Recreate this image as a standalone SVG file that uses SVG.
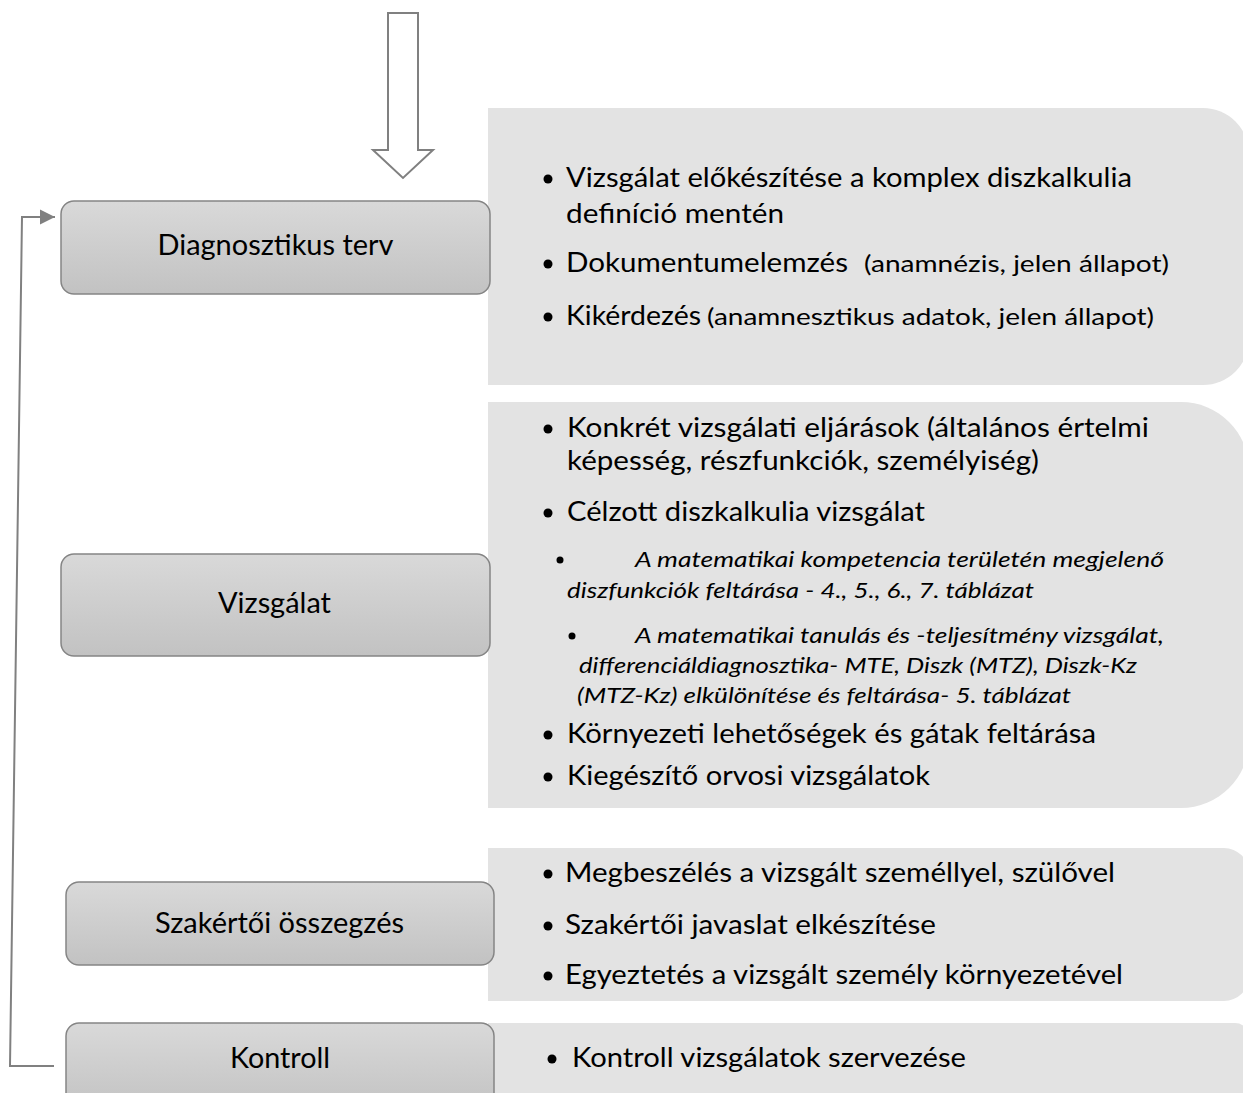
<svg xmlns="http://www.w3.org/2000/svg" width="1243" height="1093" viewBox="0 0 1243 1093">
  <defs>
    <linearGradient id="boxFill" x1="0" y1="0" x2="0" y2="1">
      <stop offset="0" stop-color="#d9d9d9"/>
      <stop offset="1" stop-color="#c2c2c2"/>
    </linearGradient>
    <marker id="arrowHead" markerUnits="userSpaceOnUse" markerWidth="16" markerHeight="16" refX="15" refY="8" orient="auto">
      <path d="M0,0.5 L15,8 L0,15.5 Z" fill="#808080"/>
    </marker>
    <style>
      .panel { fill: #e3e3e3; }
      .box { fill: url(#boxFill); stroke: #858585; stroke-width: 1.5; }
      .label { font-family: Lato, "Liberation Sans", sans-serif; font-size: 28px; fill: #000; text-anchor: middle; }
      .item { font-family: Lato, "Liberation Sans", sans-serif; font-size: 26px; fill: #000; }
      .small { font-size: 24px; }
      .sub { font-family: Lato, "Liberation Sans", sans-serif; font-size: 20.5px; font-style: italic; fill: #000; }
      .dot { fill: #000; }
      .conn { fill: none; stroke: #808080; stroke-width: 2; }
    </style>
  </defs>
  <rect width="1243" height="1093" fill="#ffffff"/>

  <!-- detail panels (rounded on the right side only) -->
  <g id="panels">
    <path class="panel" d="M488,108 H1203 A46,46 0 0 1 1249,154 V339 A46,46 0 0 1 1203,385 H488 Z"/>
    <path class="panel" d="M488,402 H1181 A68,68 0 0 1 1249,470 V740 A68,68 0 0 1 1181,808 H488 Z"/>
    <path class="panel" d="M488,848 H1224 A25,25 0 0 1 1249,873 V976 A25,25 0 0 1 1224,1001 H488 Z"/>
    <path class="panel" d="M488,1023 H1235 A14,14 0 0 1 1249,1037 V1100 H488 Z"/>
  </g>

  <!-- connectors -->
  <g id="connectors">
    <path class="conn" d="M388,13 H418 V150 H433 L403,178 L373,150 H388 Z" fill="#ffffff"/>
    <path class="conn" d="M54,1066 H10 L22,217 H55" marker-end="url(#arrowHead)"/>
  </g>

  <!-- step nodes -->
  <g id="node-diagnosztikus-terv">
    <rect class="box" x="61" y="201" width="429" height="93" rx="13"/>
    <text class="label" x="275.5" y="255" textLength="236" lengthAdjust="spacingAndGlyphs">Diagnosztikus terv</text>
  </g>
  <g id="node-vizsgalat">
    <rect class="box" x="61" y="554" width="429" height="102" rx="13"/>
    <text class="label" x="274.5" y="613" textLength="113" lengthAdjust="spacingAndGlyphs">Vizsgálat</text>
  </g>
  <g id="node-szakertoi-osszegzes">
    <rect class="box" x="66" y="882" width="428" height="83" rx="13"/>
    <text class="label" x="279.5" y="933" textLength="249" lengthAdjust="spacingAndGlyphs">Szakértői összegzés</text>
  </g>
  <g id="node-kontroll">
    <rect class="box" x="66" y="1023" width="428" height="90" rx="13"/>
    <text class="label" x="280" y="1068" textLength="100" lengthAdjust="spacingAndGlyphs">Kontroll</text>
  </g>

  <!-- bullet lists -->
  <g id="list-diagnosztikus-terv">
    <circle class="dot" cx="548" cy="179" r="4.5"/>
    <text class="item" x="566" y="187" textLength="566" lengthAdjust="spacingAndGlyphs">Vizsgálat előkészítése a komplex diszkalkulia</text>
    <text class="item" x="566" y="223" textLength="218" lengthAdjust="spacingAndGlyphs">definíció mentén</text>
    <circle class="dot" cx="548" cy="264" r="4.5"/>
    <text class="item" x="566" y="272" textLength="282" lengthAdjust="spacingAndGlyphs">Dokumentumelemzés</text>
    <text class="item small" x="864" y="272" textLength="305" lengthAdjust="spacingAndGlyphs">(anamnézis, jelen állapot)</text>
    <circle class="dot" cx="548" cy="317" r="4.5"/>
    <text class="item" x="566" y="325" textLength="135" lengthAdjust="spacingAndGlyphs">Kikérdezés</text>
    <text class="item small" x="707" y="325" textLength="447" lengthAdjust="spacingAndGlyphs">(anamnesztikus adatok, jelen állapot)</text>
  </g>

  <g id="list-vizsgalat">
    <circle class="dot" cx="548" cy="429" r="4.5"/>
    <text class="item" x="567" y="437" textLength="582" lengthAdjust="spacingAndGlyphs">Konkrét vizsgálati eljárások (általános értelmi</text>
    <text class="item" x="567" y="470" textLength="472" lengthAdjust="spacingAndGlyphs">képesség, részfunkciók, személyiség)</text>
    <circle class="dot" cx="548" cy="513" r="4.5"/>
    <text class="item" x="567" y="521" textLength="358" lengthAdjust="spacingAndGlyphs">Célzott diszkalkulia vizsgálat</text>
    <circle class="dot" cx="560" cy="560" r="3.5"/>
    <text class="sub" x="635" y="567" textLength="529" lengthAdjust="spacingAndGlyphs">A matematikai kompetencia területén megjelenő</text>
    <text class="sub" x="567" y="598" textLength="467" lengthAdjust="spacingAndGlyphs">diszfunkciók feltárása - 4., 5., 6., 7. táblázat</text>
    <circle class="dot" cx="572" cy="636" r="3.5"/>
    <text class="sub" x="635" y="643" textLength="529" lengthAdjust="spacingAndGlyphs">A matematikai tanulás és -teljesítmény vizsgálat,</text>
    <text class="sub" x="579" y="673" textLength="558" lengthAdjust="spacingAndGlyphs">differenciáldiagnosztika- MTE, Diszk (MTZ), Diszk-Kz</text>
    <text class="sub" x="577" y="703" textLength="494" lengthAdjust="spacingAndGlyphs">(MTZ-Kz) elkülönítése és feltárása- 5. táblázat</text>
    <circle class="dot" cx="548" cy="735" r="4.5"/>
    <text class="item" x="567" y="743" textLength="529" lengthAdjust="spacingAndGlyphs">Környezeti lehetőségek és gátak feltárása</text>
    <circle class="dot" cx="548" cy="777" r="4.5"/>
    <text class="item" x="567" y="785" textLength="363" lengthAdjust="spacingAndGlyphs">Kiegészítő orvosi vizsgálatok</text>
  </g>

  <g id="list-szakertoi-osszegzes">
    <circle class="dot" cx="548" cy="874" r="4.5"/>
    <text class="item" x="565" y="882" textLength="550" lengthAdjust="spacingAndGlyphs">Megbeszélés a vizsgált személlyel, szülővel</text>
    <circle class="dot" cx="548" cy="926" r="4.5"/>
    <text class="item" x="565" y="934" textLength="371" lengthAdjust="spacingAndGlyphs">Szakértői javaslat elkészítése</text>
    <circle class="dot" cx="548" cy="976" r="4.5"/>
    <text class="item" x="565" y="984" textLength="558" lengthAdjust="spacingAndGlyphs">Egyeztetés a vizsgált személy környezetével</text>
  </g>

  <g id="list-kontroll">
    <circle class="dot" cx="552" cy="1059" r="4.5"/>
    <text class="item" x="572" y="1067" textLength="394" lengthAdjust="spacingAndGlyphs">Kontroll vizsgálatok szervezése</text>
  </g>
</svg>
